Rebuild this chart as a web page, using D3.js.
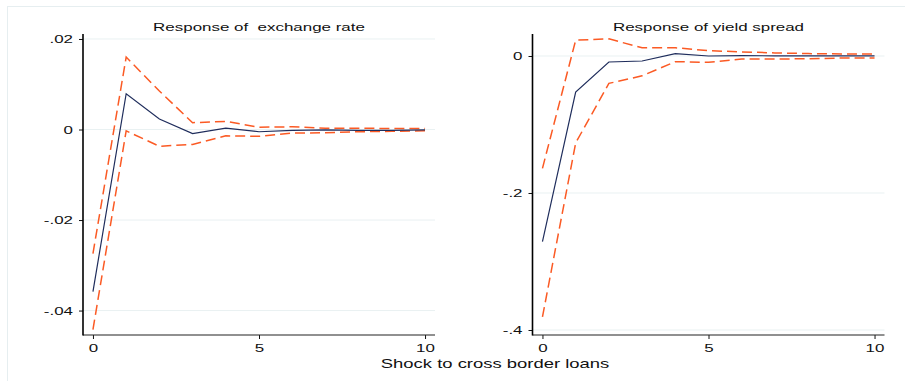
<!DOCTYPE html>
<html>
<head>
<meta charset="utf-8">
<script src="https://cdn.jsdelivr.net/npm/d3@7"></script>
<style>
  body { margin: 0; background: #fff; }
  text { font-family: "Liberation Sans", Arial, Helvetica, sans-serif; fill: #111; }
</style>
</head>
<body>
<svg id="chart" width="905" height="381"></svg>
<script>
// Impulse-response horizons
const steps = [0, 1, 2, 3, 4, 5, 6, 7, 8, 9, 10];
const xTicks = [0, 5, 10];

// Response of exchange rate: point estimate and confidence bounds
const fxIrf   = [-0.0358, 0.0079, 0.0023, -0.0009, 0.0003, -0.0005, -0.0002, -0.0001, -0.0002, -0.0002, -0.0001];
const fxUpper = [-0.0274, 0.0160, 0.0085, 0.0015, 0.0018, 0.0005, 0.0006, 0.0003, 0.0003, 0.0002, 0.0002];
const fxLower = [-0.0442, -0.0003, -0.0037, -0.0033, -0.0014, -0.0015, -0.0008, -0.0007, -0.0005, -0.0004, -0.0003];
const fxTicks = [0.02, 0, -0.02, -0.04];
const fxTickLabels = [".02", "0", "-.02", "-.04"];

// Response of yield spread: point estimate and confidence bounds
const ysIrf   = [-0.271, -0.0526, -0.0088, -0.0073, 0.0034, 0.0000, 0.0005, 0.0003, 0.0002, 0.0001, 0.0001];
const ysUpper = [-0.164, 0.023, 0.025, 0.012, 0.012, 0.0078, 0.006, 0.0045, 0.0035, 0.003, 0.003];
const ysLower = [-0.381, -0.127, -0.040, -0.029, -0.0083, -0.0092, -0.0044, -0.0045, -0.004, -0.003, -0.003];
const ysTicks = [0, -0.2, -0.4];
const ysTickLabels = ["0", "-.2", "-.4"];

const titles = ["Response of  exchange rate", "Response of yield spread"];
const xTitle = "Shock to cross border loans";

const svg = d3.select("#chart");
const SX = 1.5;          // horizontal stretch of the lettering
const plotTop = 34, plotBottom = 335;
const navy = "#1f2d5c", orange = "#fb5a24", grid = "#e9f1f2";

// Light outer frame
svg.append("rect").attr("x", 7.5).attr("y", 6.5).attr("width", 1000).attr("height", 1000)
  .attr("fill", "none").attr("stroke", "#e6eef0").attr("stroke-width", 1);

function stretchedText(g, x, y, str, anchor, size) {
  return g.append("text")
    .attr("transform", `translate(${x},${y}) scale(${SX},1)`)
    .attr("text-anchor", anchor)
    .attr("font-size", size)
    .style("white-space", "pre")
    .text(str);
}

function panel(cfg) {
  const g = svg.append("g");
  const x = d3.scaleLinear().domain([-0.3, 10.3]).range([cfg.left, cfg.right]);
  const y = d3.scaleLinear().domain(cfg.domain).range([plotBottom, plotTop]);

  // horizontal grid lines
  g.append("g").selectAll("line").data(cfg.ticks).join("line")
    .attr("x1", cfg.left).attr("x2", cfg.right)
    .attr("y1", d => y(d)).attr("y2", d => y(d))
    .attr("stroke", grid).attr("stroke-width", 1);

  // y axis
  const ya = g.append("g").attr("transform", `translate(${cfg.left},0)`)
    .call(d3.axisLeft(y).tickValues(cfg.ticks)
      .tickFormat((d, i) => cfg.labels[i]).tickSize(4).tickSizeOuter(0).tickPadding(6));
  ya.attr("font-family", null).attr("font-size", null);
  ya.select(".domain").remove();
  ya.selectAll("line").attr("stroke", "#111");
  ya.selectAll("text").each(function () {
    const t = d3.select(this);
    const ax = +t.attr("x");
    t.attr("x", ax / SX).attr("transform", `scale(${SX},1)`)
      .attr("font-size", 11.3).style("fill", "#111");
  });

  // x axis
  const xa = g.append("g").attr("transform", `translate(0,${plotBottom})`)
    .call(d3.axisBottom(x).tickValues(xTicks).tickSize(4).tickSizeOuter(0).tickPadding(4.5));
  xa.attr("font-family", null).attr("font-size", null);
  xa.select(".domain").remove();
  xa.selectAll("line").attr("stroke", "#111");
  xa.selectAll("text").attr("transform", `scale(${SX},1)`)
    .attr("font-size", 11.3).style("fill", "#111");

  g.append("line").attr("x1", cfg.left).attr("x2", cfg.right)
    .attr("y1", plotBottom).attr("y2", plotBottom).attr("stroke", "#222").attr("stroke-width", 1.2);
  g.append("line").attr("x1", cfg.left).attr("x2", cfg.left)
    .attr("y1", plotTop).attr("y2", plotBottom + 0.6).attr("stroke", "#000").attr("stroke-width", 1.6);

  const line = d3.line().x((d, i) => x(steps[i])).y(d => y(d));

  [cfg.upper, cfg.lower].forEach(s => {
    g.append("path").attr("d", line(s)).attr("fill", "none")
      .attr("stroke", orange).attr("stroke-width", 1.5).attr("stroke-dasharray", "10,5");
  });
  g.append("path").attr("d", line(cfg.irf)).attr("fill", "none")
    .attr("stroke", navy).attr("stroke-width", 1.2);

  stretchedText(svg, (cfg.left + cfg.right) / 2, 31, cfg.title, "middle", 11.3);
}

panel({ left: 83, right: 435, domain: [-0.0454, 0.0211], ticks: fxTicks, labels: fxTickLabels,
        irf: fxIrf, upper: fxUpper, lower: fxLower, title: titles[0] });
panel({ left: 532.5, right: 884.5, domain: [-0.4073, 0.0321], ticks: ysTicks, labels: ysTickLabels,
        irf: ysIrf, upper: ysUpper, lower: ysLower, title: titles[1] });

stretchedText(svg, 495, 367.5, xTitle, "middle", 12.3);
</script>
</body>
</html>
